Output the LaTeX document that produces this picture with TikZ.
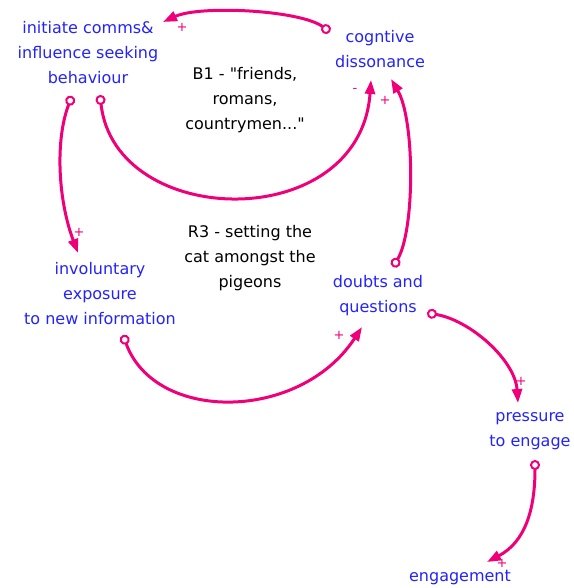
\documentclass[tikz,border=0pt]{standalone}
\usepackage{fontspec}
\setmainfont{DejaVu Sans}
\usetikzlibrary{arrows.meta}
\definecolor{linkpink}{RGB}{240,0,120}
\definecolor{varblue}{RGB}{35,35,250}
\tikzset{
  var/.style={text=varblue, align=center, inner sep=0pt, font=\fontsize{16}{25}\selectfont},
  looplabel/.style={text=black, align=center, inner sep=0pt, font=\fontsize{16}{25}\selectfont},
  polarity/.style={text=linkpink, inner sep=0pt, font=\fontsize{13}{13}\selectfont},
  link/.style={draw=linkpink, line width=3pt,
    {Circle[open, length=10pt, width=10pt, line width=2pt, fill=white]}-{Triangle[length=14pt, width=10pt]}},
}
\begin{document}
\begin{tikzpicture}[x=1pt, y=-1pt]
  \useasboundingbox (0,0) rectangle (573,588);

  % variables
  \node[var] (init) at (88,53) {initiate comms\&\\influence seeking\\behaviour};
  \node[var] (cd)   at (380,49) {cogntive\\dissonance};
  \node[var] (inv)  at (100,294) {involuntary\\exposure\\to new information};
  \node[var] (dq)   at (378,296) {doubts and\\questions};
  \node[var] (pr)   at (530,431) {pressure\\to engage};
  \node[var] (eng)  at (460,578) {engagement};

  % loop names
  \node[looplabel] (b1) at (245,100) {B1 - \textquotedbl friends,\\romans,\\countrymen...\textquotedbl};
  \node[looplabel] (r3) at (250,258) {R3 - setting the\\cat amongst the\\pigeons};

  % causal links
  \draw[link] ([shift={(-50,-17)}]cd.center)
    .. controls +(-30,-22) and +(37,-17) .. ([shift={(75,-31)}]init.center);
  \draw[link] ([shift={(12,42)}]init.center)
    .. controls +(15,135) and +(-11,155) .. ([shift={(-9,31)}]cd.center);
  \draw[link] ([shift={(-16,43)}]init.center)
    .. controls +(-17,44) and +(-20,-53) .. ([shift={(-22,-41)}]inv.center);
  \draw[link] ([shift={(23,41)}]inv.center)
    .. controls +(32,88) and +(-62,95) .. ([shift={(-16,31)}]dq.center);
  \draw[link] ([shift={(15,-29)}]dq.center)
    .. controls +(22,-37) and +(24,41) .. ([shift={(11,30)}]cd.center);
  \draw[link] ([shift={(49,17)}]dq.center)
    .. controls +(43,7) and +(-3,-43) .. ([shift={(-12,-28)}]pr.center);
  \draw[link] ([shift={(5,29)}]pr.center)
    .. controls +(0,50) and +(38,-20) .. ([shift={(27,-16)}]eng.center);

  % link polarities
  \node[polarity] (p1) at (182,27) {+};
  \node[polarity] (p2) at (355,90) {-};
  \node[polarity] (p3) at (385,100) {+};
  \node[polarity] (p4) at (79,232) {+};
  \node[polarity] (p5) at (339,335) {+};
  \node[polarity] (p6) at (521,381) {+};
  \node[polarity] (p7) at (502,563) {+};
\end{tikzpicture}
\end{document}
